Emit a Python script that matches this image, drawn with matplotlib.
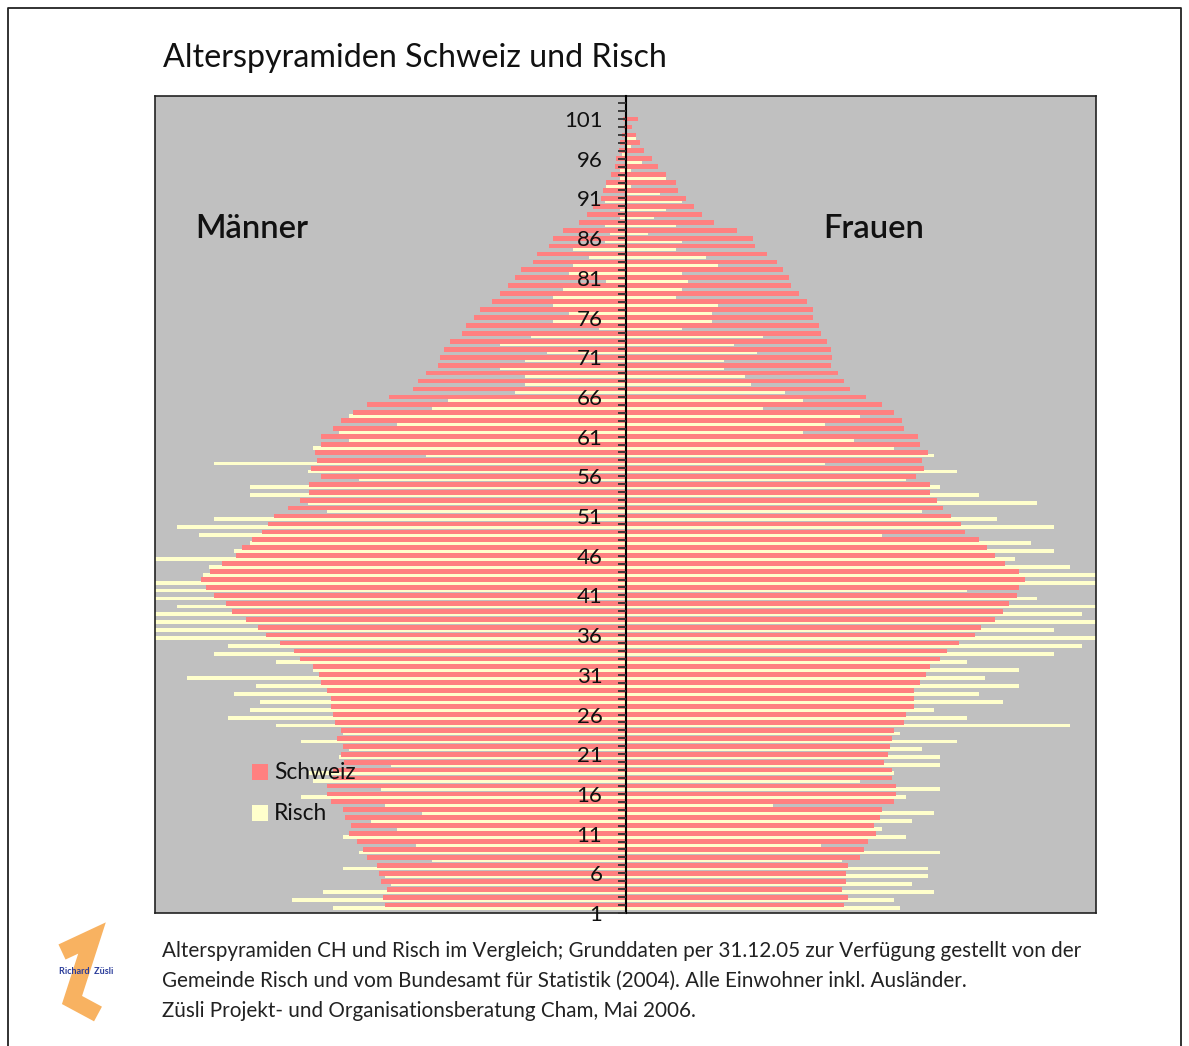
import matplotlib
matplotlib.use('Agg')
import matplotlib.pyplot as plt
import numpy as np
from matplotlib.lines import Line2D
from matplotlib.patches import Rectangle

# ---------------- data (bar lengths, chart units) ----------------
ages = list(range(1, 101))

maenner_schweiz = [24.1,24.3,23.9,24.5,24.7,24.9,25.9,26.3,26.9,27.7,
                   27.5,28.1,28.3,29.5,29.9,29.9,29.3,29.3,28.2,28.5,
                   28.3,28.9,28.5,29.1,29.3,29.5,29.5,29.9,30.5,30.7,
                   31.3,32.6,33.2,34.6,36.0,36.8,38.0,39.4,40.0,41.2,
                   42.0,42.5,41.6,40.4,39.0,38.4,37.4,36.4,35.8,35.2,
                   33.8,32.6,31.7,31.7,30.5,31.5,30.9,31.1,30.5,30.5,
                   29.3,28.5,27.3,25.9,23.7,21.3,20.8,20.0,18.8,18.6,
                   18.2,17.6,16.4,16.0,15.2,14.6,13.4,12.6,11.8,11.1,
                   10.5,9.3,8.9,7.7,7.3,6.3,4.7,3.9,3.3,2.5,
                   2.3,2.0,1.5,1.1,1.0,0.7,0.6,0.4,0.2,0.3]

maenner_risch = [29.3,33.4,30.3,23.5,24.1,28.3,19.4,26.7,21.0,28.3,
                 22.9,25.5,20.4,24.1,32.5,24.5,31.3,31.7,23.5,28.7,
                 27.7,32.5,28.3,35.0,39.8,37.6,36.6,39.2,37.0,43.9,
                 31.3,35.0,41.2,39.8,50.0,50.0,50.0,50.0,44.9,50.0,
                 50.0,50.0,42.3,41.7,50.0,39.2,37.6,42.7,44.9,41.2,
                 29.9,31.8,37.6,37.6,26.7,31.8,41.2,20.0,31.3,27.7,
                 28.7,22.9,27.7,19.4,17.8,11.1,10.1,10.1,12.6,10.1,
                 7.9,12.6,9.5,2.7,7.3,5.7,7.3,7.3,6.3,2.0,
                 5.7,5.3,3.7,5.3,2.1,1.6,2.1,0.6,0.6,2.1,
                 0.0,2.0,0.6,0.6,0.0,0.4,0.0,0.0,0.0,0.0]

frauen_schweiz = [21.8,22.2,21.6,22.0,22.0,22.2,23.4,23.8,24.2,25.0,
                  24.8,25.4,25.6,26.8,27.0,27.0,26.6,26.6,25.8,26.2,
                  26.4,26.6,26.8,27.8,28.0,28.8,28.8,28.8,29.4,30.0,
                  30.4,31.4,32.1,33.3,34.9,35.5,36.9,37.7,38.3,39.1,
                  39.3,39.9,39.3,37.9,36.9,36.1,35.3,33.9,33.5,32.5,
                  31.7,31.1,30.4,30.4,29.0,29.8,29.6,30.2,29.4,29.2,
                  27.8,27.6,26.8,25.6,24.0,22.4,21.8,21.2,20.5,20.6,
                  20.5,20.1,19.5,19.3,18.7,18.7,18.1,17.3,16.5,16.3,
                  15.7,15.1,14.1,12.9,12.7,11.1,8.8,7.6,6.8,6.0,
                  5.2,5.0,4.0,3.2,2.6,1.8,1.4,1.0,0.6,1.2]

frauen_risch = [27.4,26.8,30.8,28.6,30.2,30.2,21.6,31.4,19.5,28.0,
                25.6,28.6,30.8,14.7,28.0,31.4,23.4,26.8,31.4,31.4,
                29.6,33.1,27.4,44.4,34.1,30.8,37.7,35.3,39.3,35.9,
                39.3,34.1,42.8,45.6,49.0,42.8,49.0,45.6,49.0,41.1,
                34.1,49.0,49.0,44.4,38.9,42.8,40.5,25.6,42.8,37.1,
                29.6,41.1,35.3,31.4,28.0,33.1,19.9,30.8,26.8,22.8,
                17.7,19.9,23.4,13.7,17.7,15.9,12.5,11.9,9.8,9.8,
                13.1,10.8,13.7,5.6,8.6,8.6,9.2,5.0,5.6,6.2,
                5.6,9.2,8.0,5.0,5.6,2.2,5.0,2.8,4.0,5.6,
                3.4,0.5,4.0,0.5,1.6,0.0,0.5,1.0,0.0,0.0]

tick_labels = [str(n) for n in range(1, 104)]

# ---------------- figure ----------------
W, H = 1189, 1046
fig = plt.figure(figsize=(W / 100, H / 100), dpi=100)
fig.patch.set_facecolor('white')
FONT = ['Lato', 'DejaVu Sans']
plt.rcParams['font.family'] = FONT

def fx(x):
    return x / W

def fy(y):
    return 1 - y / H

ch_col = '#FF8080'
ri_col = '#FFFFCC'

ax = fig.add_axes([fx(155), fy(913), (1096 - 155) / W, (913 - 96) / H])
ax.set_facecolor('#C0C0C0')

y = np.array(ages, dtype=float)
ax.barh(y - 0.19, -np.array(maenner_risch), height=0.48, color=ri_col, lw=0, zorder=2)
ax.barh(y - 0.19, np.array(frauen_risch), height=0.48, color=ri_col, lw=0, zorder=2)
ax.barh(y + 0.2, -np.array(maenner_schweiz), height=0.6, color=ch_col, lw=0, zorder=3)
ax.barh(y + 0.2, np.array(frauen_schweiz), height=0.6, color=ch_col, lw=0, zorder=3)

ax.set_xlim(-47.1, 47.0)
ax.set_ylim(0.2, 103.1)
ax.set_xticks([])

pos = np.arange(1, 104) - 0.8
ax.set_yticks(pos)
ax.set_yticklabels([lab if (int(lab) - 1) % 5 == 0 else '' for lab in tick_labels])
ax.tick_params(axis='y', direction='out', length=6, width=1.3, color='#333333',
               labelsize=16, pad=11, labelcolor='#111111')
ax.yaxis.set_zorder(7)

ax.spines['left'].set_position(('data', 0))
ax.spines['left'].set_color('black')
ax.spines['left'].set_linewidth(1.5)
ax.spines['left'].set_zorder(6)
for s in ['top', 'right', 'bottom']:
    ax.spines[s].set_color('#222222')
    ax.spines[s].set_linewidth(1.2)
ax.add_line(Line2D([0, 0], [0, 1], transform=ax.transAxes, color='#222222',
                   lw=1.2, clip_on=False, zorder=6))

# labels inside plot
fig.text(fx(195), fy(238), 'Männer', fontsize=23.5, fontweight='semibold',
         va='baseline', ha='left', color='#111111')
fig.text(fx(823), fy(238), 'Frauen', fontsize=23.5, fontweight='semibold',
         va='baseline', ha='left', color='#111111')

# legend
fig.patches.append(Rectangle((fx(252), fy(780)), 16 / W, 16 / H, transform=fig.transFigure,
                             facecolor=ch_col, edgecolor='none', zorder=10))
fig.patches.append(Rectangle((fx(252), fy(821)), 16 / W, 16 / H, transform=fig.transFigure,
                             facecolor=ri_col, edgecolor='none', zorder=10))
fig.text(fx(274), fy(779), 'Schweiz', fontsize=16.4, va='baseline', ha='left', color='#111111', zorder=11)
fig.text(fx(274), fy(820), 'Risch', fontsize=16.4, va='baseline', ha='left', color='#111111', zorder=11)

# title
fig.text(fx(163), fy(67), 'Alterspyramiden Schweiz und Risch', fontsize=23.2,
         va='baseline', ha='left', color='#111111')

# footnote
notes = ['Alterspyramiden CH und Risch im Vergleich; Grunddaten per 31.12.05 zur Verfügung gestellt von der',
         'Gemeinde Risch und vom Bundesamt für Statistik (2004). Alle Einwohner inkl. Ausländer.',
         'Züsli Projekt- und Organisationsberatung Cham, Mai 2006.']
for i, t in enumerate(notes):
    fig.text(fx(162), fy(957 + 30 * i), t, fontsize=14.9, va='baseline', ha='left', color='#222222')

# logo
fig.lines.append(Line2D([fx(62), fx(92), fx(72), fx(98)], [fy(952), fy(938), fy(1000), fy(1014)],
                        transform=fig.transFigure, color='#F7A545', lw=12, alpha=0.85,
                        solid_joinstyle='miter', solid_capstyle='butt'))
fig.text(fx(86), fy(971), 'Richard  Züsli', fontsize=6.5, fontweight='bold', color='#2A3C9A',
         ha='center', va='center')

# outer border
fig.lines.append(Line2D([fx(8), fx(8), fx(1181), fx(1181)], [0, fy(8), fy(8), 0],
                        transform=fig.transFigure, color='#222222', lw=1.3))

fig.savefig('out.png', dpi=100, facecolor='white')
